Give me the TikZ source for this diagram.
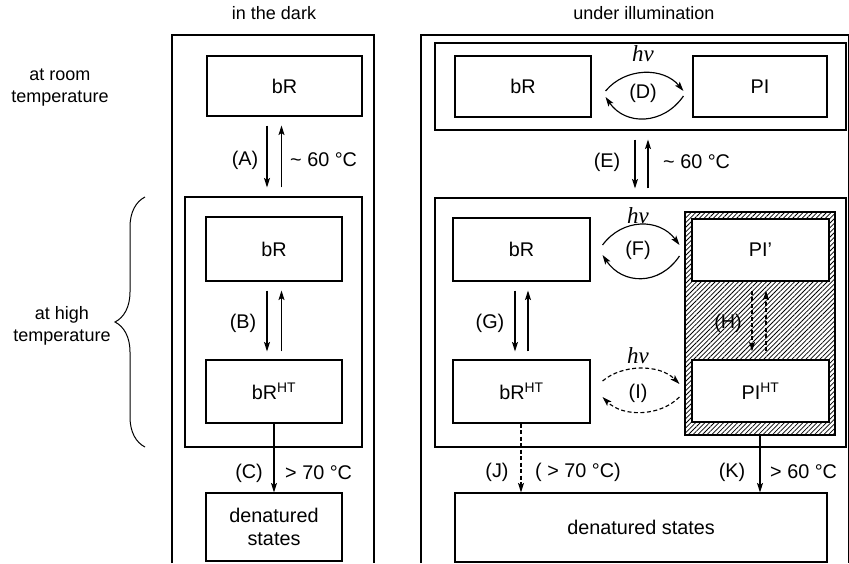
\documentclass[tikz,border=0pt]{standalone}
\usepackage{fontspec}
\setmainfont{Liberation Sans}
\newfontfamily\hvfont{Liberation Serif}
\usetikzlibrary{arrows.meta,patterns.meta,decorations.pathreplacing}
\begin{document}
\begin{tikzpicture}[x=1pt,y=-1pt,
  font=\fontsize{19.8}{23}\selectfont,
  box/.style={draw,line width=1.1pt,fill=white,inner sep=0pt},
  frame/.style={draw,line width=1.1pt},
  arr/.style={-{Stealth[length=9.5pt,width=6pt,inset=2pt]},line width=1.15pt},
  dsh/.style={dash pattern=on 4pt off 2.5pt},
  lbl/.style={inner sep=0pt},
  side/.style={inner sep=0pt,font=\fontsize{18}{22}\selectfont},
  hv/.style={inner sep=0pt,font=\hvfont\itshape\fontsize{23}{24}\selectfont}]
\useasboundingbox (0,0) rectangle (849,563);

% column headings and row labels
\node[side] (hdDark) at (274,13) {in the dark};
\node[side] (hdLight) at (644,13) {under illumination};
\node[side,align=center] (rowRoom) at (60,88) {at room\\temperature};
\node[side,align=center] (rowHigh) at (62,326) {at high\\temperature};
\draw[line width=1pt,decorate,decoration={brace,amplitude=30pt}] (145,447) -- (145,197);

% open outer frames
\draw[frame] (172,563) -- (172,35) -- (374,35) -- (374,563);
\draw[frame] (421,563) -- (421,35) -- (848.5,35) -- (848.5,563);

% ---- in the dark ----
\node[box,minimum width=155pt,minimum height=60pt] (bRa) at (284.5,86) {bR};
\node[box,minimum width=177pt,minimum height=250pt] (hiL) at (273.5,322) {};
\node[box,minimum width=136pt,minimum height=64pt] (bRb) at (274,249) {bR};
\node[box,minimum width=136pt,minimum height=63pt] (bRhtL) at (274,391.5) {bR\textsuperscript{HT}};
\node[box,minimum width=136pt,minimum height=68pt,align=center] (denL) at (274,527) {denatured\\states};

\coordinate (xa1) at (267,0);
\coordinate (xa2) at (281.5,0);
\coordinate (xc) at (274,0);

\draw[arr,shorten <=9pt,shorten >=9pt] (bRa.south -| xa1) -- (hiL.north -| xa1);
\draw[arr,shorten <=9pt,shorten >=9pt] (hiL.north -| xa2) -- (bRa.south -| xa2);
\node[lbl] (labA) at (245,160) {(A)};
\node[lbl,anchor=west] (tA) at (290,160) {\textasciitilde{} 60 °C};

\draw[arr,shorten <=9pt,shorten >=8pt] (bRb.south -| xa1) -- (bRhtL.north -| xa1);
\draw[arr,shorten <=8pt,shorten >=9pt] (bRhtL.north -| xa2) -- (bRb.south -| xa2);
\node[lbl] (labB) at (243,323) {(B)};

\draw[arr] (bRhtL.south -| xc) -- (denL.north -| xc);
\node[lbl] (labC) at (249,473) {(C)};
\node[lbl,anchor=west] (tC) at (285,473) {> 70 °C};

% ---- under illumination ----
\node[box,minimum width=411pt,minimum height=87pt] (roomR) at (640.5,86.5) {};
\node[box,minimum width=136pt,minimum height=61pt] (bRc) at (523,86.5) {bR};
\node[box,minimum width=134pt,minimum height=61pt] (PI) at (760,86.5) {PI};

\draw[arr] ([shift={(14,4.5)}]bRc.east) .. controls +(20,-24) and +(-20,-24) .. ([shift={(-9,4.5)}]PI.west);
\draw[arr] ([shift={(-9,9.5)}]PI.west) .. controls +(-20,29) and +(20,29) .. ([shift={(14,10.5)}]bRc.east);
\node[hv] (hvD) at (643,54) {hν};
\node[lbl] (labD) at (643,93) {(D)};

\coordinate (xe1) at (635,0);
\coordinate (xe2) at (648,0);

\node[box,minimum width=411pt,minimum height=249pt] (hiR) at (640.5,322.5) {};

\draw[arr,shorten <=9pt,shorten >=9pt] (roomR.south -| xe1) -- (hiR.north -| xe1);
\draw[arr,shorten <=9pt,shorten >=9pt] (hiR.north -| xe2) -- (roomR.south -| xe2);
\node[lbl] (labE) at (607,162) {(E)};
\node[lbl,anchor=west] (tE) at (663,162) {\textasciitilde{} 60 °C};

\node[draw,line width=1.1pt,pattern={Lines[angle=45,distance=3.3pt,line width=0.75pt]},
      minimum width=150pt,minimum height=223pt,inner sep=0pt] (hatch) at (760,323.5) {};
\node[box,minimum width=137pt,minimum height=63pt] (bRd) at (521.5,249.5) {bR};
\node[box,minimum width=137pt,minimum height=62pt] (PIp) at (760.5,250) {PI’};
\node[box,minimum width=137pt,minimum height=63pt] (bRhtR) at (521.5,391.5) {bR\textsuperscript{HT}};
\node[box,minimum width=137pt,minimum height=62pt] (PIht) at (760.5,391) {PI\textsuperscript{HT}};

\draw[arr] ([shift={(12,-4.5)}]bRd.east) .. controls +(20,-27) and +(-20,-27) .. ([shift={(-12,-5)}]PIp.west);
\draw[arr] ([shift={(-12,6)}]PIp.west) .. controls +(-20,30) and +(20,30) .. ([shift={(12,5.5)}]bRd.east);
\node[hv] (hvF) at (638,216) {hν};
\node[lbl] (labF) at (638,250) {(F)};

\coordinate (xg1) at (515,0);
\coordinate (xg2) at (528,0);
\draw[arr,shorten <=9pt,shorten >=8pt] (bRd.south -| xg1) -- (bRhtR.north -| xg1);
\draw[arr,shorten <=8pt,shorten >=9pt] (bRhtR.north -| xg2) -- (bRd.south -| xg2);
\node[lbl] (labG) at (490,323) {(G)};

\coordinate (xh1) at (752,0);
\coordinate (xh2) at (766,0);
\draw[arr,dsh,shorten <=9pt,shorten >=8pt] (PIp.south -| xh1) -- (PIht.north -| xh1);
\draw[arr,dsh,shorten <=8pt,shorten >=9pt] (PIht.north -| xh2) -- (PIp.south -| xh2);
\node[lbl] (labH) at (728,323) {(H)};

\draw[arr,dsh] ([shift={(12,-10.5)}]bRhtR.east) .. controls +(20,-17) and +(-20,-20) .. ([shift={(-12,-7)}]PIht.west);
\draw[arr,dsh] ([shift={(-12,6)}]PIht.west) .. controls +(-20,20) and +(20,20) .. ([shift={(12,5.5)}]bRhtR.east);
\node[hv] (hvI) at (638,356) {hν};
\node[lbl] (labI) at (638,393) {(I)};

\node[box,minimum width=372pt,minimum height=69pt] (denR) at (641,527.5) {denatured states};

\coordinate (xj) at (521,0);
\coordinate (xk) at (760,0);
\draw[arr,dsh] (bRhtR.south -| xj) -- (denR.north -| xj);
\node[lbl] (labJ) at (497,472) {(J)};
\node[lbl,anchor=west] (tJ) at (535,472) {( > 70 °C)};
\draw[arr] (hatch.south -| xk) -- (denR.north -| xk);
\node[lbl] (labK) at (732,472) {(K)};
\node[lbl,anchor=west] (tK) at (770,472) {> 60 °C};
\end{tikzpicture}
\end{document}
